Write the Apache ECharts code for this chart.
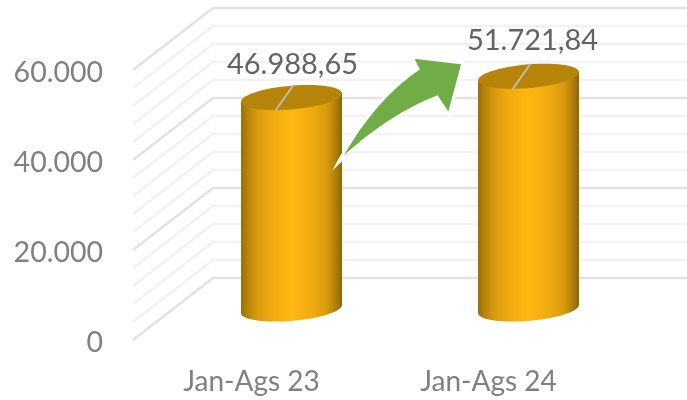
<!DOCTYPE html>
<html>
<head>
<meta charset="utf-8">
<style>html,body{margin:0;padding:0;background:#fff}#c{width:687px;height:400px}</style>
<script src="https://cdn.jsdelivr.net/npm/echarts@6/dist/echarts.min.js"></script>
</head>
<body>
<div id="c"></div>
<script>
const categories = ['Jan-Ags 23', 'Jan-Ags 24'];
const values = [46988.65, 51721.84];
const valueLabels = ['46.988,65', '51.721,84'];
const majorTicks = [0, 20000, 40000, 60000];
const minorTicks = [4000, 8000, 12000, 16000, 24000, 28000, 32000, 36000, 44000, 48000, 52000, 56000];

// Pseudo-3D box geometry, in pixels
const DEPTH_X = 80, DEPTH_Y = -62;
const BAR_RATIO = 0.426, TILT = 4.1, MINOR_R = 11.9;
const labelShift = [[1, -33], [4, -36]];

function gridRender(color, width) {
  return function (params, api) {
    const p = api.coord([0, api.value(1)]);
    const band = api.size([1, 0])[0];
    const left = p[0] - band / 2;
    const y = p[1];
    return {
      type: 'polyline',
      silent: true,
      shape: { points: [[left, y], [left + DEPTH_X, y + DEPTH_Y], [left + band * 2 + DEPTH_X, y + DEPTH_Y]] },
      style: { fill: null, stroke: color, lineWidth: width }
    };
  };
}

function ellipsePts(cx, cy, R, from, to, n) {
  const out = [];
  for (let i = 0; i <= n; i++) {
    const t = from + (to - from) * i / n;
    out.push([cx + R * Math.cos(t), cy + MINOR_R * Math.sin(t) - TILT * Math.cos(t)]);
  }
  return out;
}

function cylinderRender(params, api) {
  const i = api.value(0);
  const base = api.coord([i, 0]);
  const top = api.coord([i, api.value(1)]);
  const band = api.size([1, 0])[0];
  const R = band * BAR_RATIO / 2;
  const cx = base[0] + DEPTH_X / 2;
  const by = base[1] + DEPTH_Y / 2;
  const ty = top[1] + DEPTH_Y / 2;
  const lower = ellipsePts(cx, by, R, 0, Math.PI, 40);
  const upperEdge = [[cx - R, ty + TILT], [cx + R, ty - TILT]];
  const bodyPts = lower.concat(upperEdge);
  const shift = labelShift[i];
  return {
    type: 'group',
    children: [
      {
        type: 'polygon',
        shape: { points: bodyPts },
        style: {
          fill: new echarts.graphic.LinearGradient(0, 0, 1, 0, [
            { offset: 0, color: '#9a6d08' },
            { offset: 0.06, color: '#b5820a' },
            { offset: 0.15, color: '#d4980d' },
            { offset: 0.3, color: '#efaa10' },
            { offset: 0.5, color: '#ffb711' },
            { offset: 0.7, color: '#f0ab10' },
            { offset: 0.85, color: '#d89b0e' },
            { offset: 0.95, color: '#a97a0a' },
            { offset: 1, color: '#8a6408' }
          ])
        }
      },
      {
        type: 'polygon',
        shape: { points: ellipsePts(cx, ty, R, 0, Math.PI * 2, 60) },
        style: { fill: '#b7840a' }
      },
      {
        type: 'line',
        shape: { x1: cx - 16, y1: ty + 13, x2: cx + 2, y2: ty - 12.5 },
        style: { stroke: '#bfbfbf', lineWidth: 1.8 }
      },
      {
        type: 'text',
        style: {
          x: cx + shift[0], y: ty + shift[1],
          text: valueLabels[i],
          align: 'center', verticalAlign: 'middle',
          fill: '#636363', fontFamily: 'Lato', fontSize: 29
        }
      }
    ]
  };
}

function quad(a, c, b, n) {
  const out = [];
  for (let i = 0; i <= n; i++) {
    const t = i / n, u = 1 - t;
    out.push([u * u * a[0] + 2 * u * t * c[0] + t * t * b[0], u * u * a[1] + 2 * u * t * c[1] + t * t * b[1]]);
  }
  return out;
}
const arrowPts = [[463, 63], [412, 57], [418, 69]]
  .concat(quad([418, 69], [372, 100], [338, 163], 24))
  .concat(quad([338, 163], [385, 118], [437, 97], 24))
  .concat([[449, 115]]);

const chart = echarts.init(document.getElementById('c'), null, { renderer: 'canvas' });
chart.setOption({
  animation: false,
  backgroundColor: '#ffffff',
  grid: { left: 133, right: 80, top: 70, bottom: 60 },
  xAxis: {
    type: 'category',
    data: categories,
    axisLine: { show: false },
    axisTick: { show: false },
    axisLabel: { color: '#808080', fontFamily: 'Lato', fontSize: 28, margin: 28 }
  },
  yAxis: {
    type: 'value',
    min: 0,
    max: 60000,
    interval: 20000,
    axisLine: { show: false },
    axisTick: { show: false },
    splitLine: { show: false },
    axisLabel: {
      color: '#808080', fontFamily: 'Lato', fontSize: 28.5, margin: 30,
      verticalAlign: 'top', lineHeight: 5,
      formatter: v => String(v).replace(/\B(?=(\d{3})+$)/g, '.')
    }
  },
  graphic: [{
    type: 'polygon',
    z: 100,
    shape: { points: arrowPts },
    style: { fill: '#70ad47', stroke: '#ffffff', lineWidth: 3, lineJoin: 'miter' }
  }],
  series: [
    { type: 'custom', coordinateSystem: 'cartesian2d', silent: true, z: 1, data: minorTicks.map(v => [0, v]), encode: { x: 0, y: 1 },
      renderItem: gridRender('#f2f2f2', 2.4) },
    { type: 'custom', coordinateSystem: 'cartesian2d', silent: true, z: 2, data: majorTicks.map(v => [0, v]), encode: { x: 0, y: 1 },
      renderItem: gridRender('#e2e2e2', 2.4) },
    { type: 'custom', coordinateSystem: 'cartesian2d', z: 3, data: values.map((v, i) => [i, v]), encode: { x: 0, y: 1 }, renderItem: cylinderRender }
  ]
});
</script>
</body>
</html>
